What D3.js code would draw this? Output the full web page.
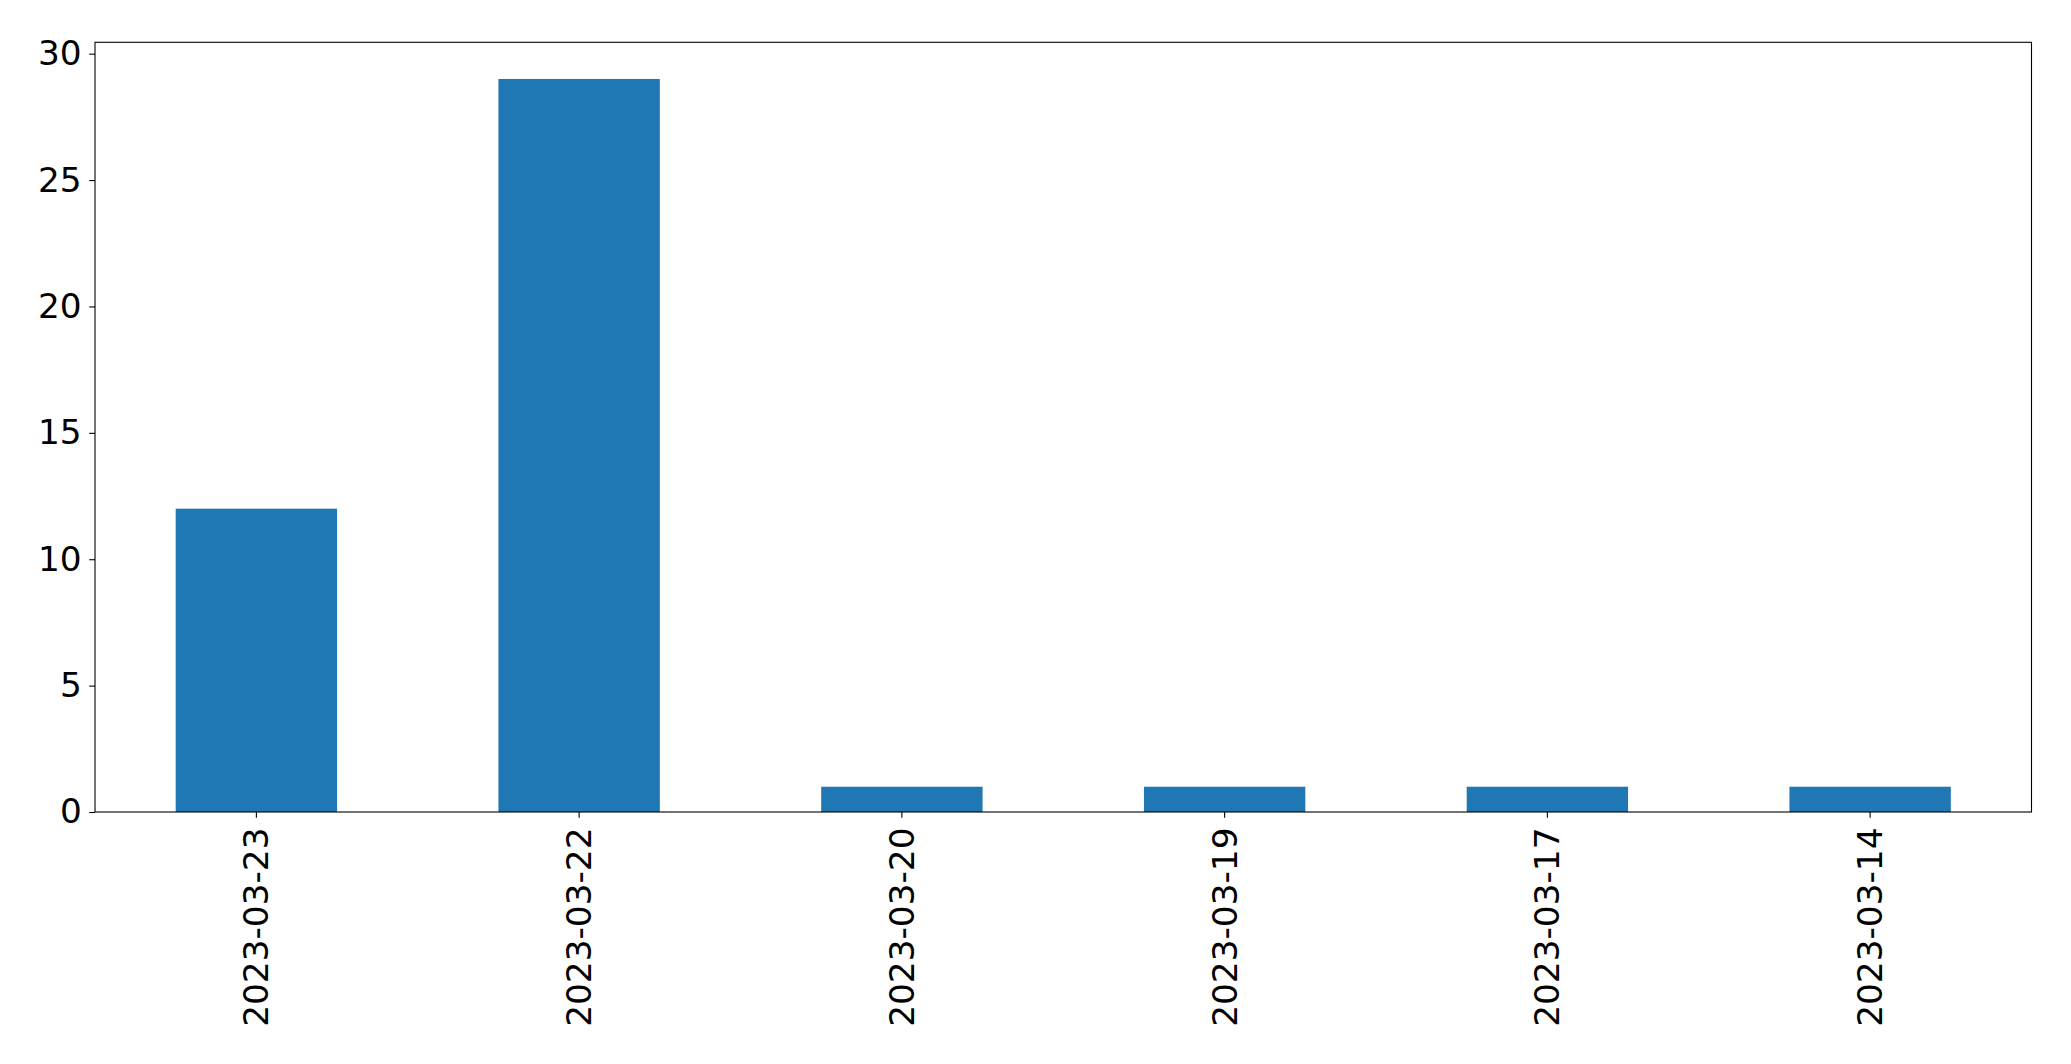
<!DOCTYPE html>
<html><head><meta charset="utf-8">
<script src="https://cdn.jsdelivr.net/npm/d3@7"></script>
<style>html,body{margin:0;padding:0;background:#fff;}svg{display:block;}</style>
</head><body>
<script>
const categories = ["2023-03-23","2023-03-22","2023-03-20","2023-03-19","2023-03-17","2023-03-14"];
const values = [12, 29, 1, 1, 1, 1];
const yTicks = [0, 5, 10, 15, 20, 25, 30];

const W = 2071, H = 1064;
const m = {left: 95, right: 2071 - 2031.5, top: 42.3, bottom: 1064 - 812};
const svg = d3.select("body").append("svg").attr("width", W).attr("height", H);
const x = d3.scaleBand().domain(categories).range([m.left, W - m.right]).paddingInner(0.5).paddingOuter(0.25);
const y = d3.scaleLinear().domain([0, d3.max(values) * 1.05]).range([H - m.bottom, m.top]);
const font = "'DejaVu Sans', sans-serif";
const fs = 34.3;

svg.append("g").selectAll("rect").data(values).join("rect")
  .attr("x", (d, i) => x(categories[i]))
  .attr("width", x.bandwidth())
  .attr("y", d => y(d))
  .attr("height", d => y(0) - y(d))
  .attr("fill", "#1f77b4");

// frame
svg.append("rect").attr("x", m.left).attr("y", m.top)
  .attr("width", W - m.right - m.left).attr("height", H - m.bottom - m.top)
  .attr("fill", "none").attr("stroke", "#000").attr("stroke-width", 1.1);

const yAxis = d3.axisLeft(y).tickValues(yTicks).tickSize(5.8).tickPadding(7.5).tickFormat(d3.format("d"));
const gy = svg.append("g").attr("transform", `translate(${m.left},0)`).call(yAxis);
gy.select(".domain").remove();
gy.selectAll("line").attr("stroke-width", 1.1);
gy.selectAll("text").attr("font-family", font).attr("font-size", fs).attr("fill", "#000");

const xAxis = d3.axisBottom(x).tickSize(5.8).tickPadding(0);
const gx = svg.append("g").attr("transform", `translate(0,${H - m.bottom})`).call(xAxis);
gx.select(".domain").remove();
gx.selectAll("line").attr("stroke-width", 1.1);
gx.selectAll("text")
  .attr("font-family", font).attr("font-size", fs).attr("fill", "#000")
  .attr("transform", "rotate(-90)")
  .attr("x", -15.5).attr("y", 0).attr("dy", "0.35em")
  .attr("text-anchor", "end");
</script>
</body></html>
